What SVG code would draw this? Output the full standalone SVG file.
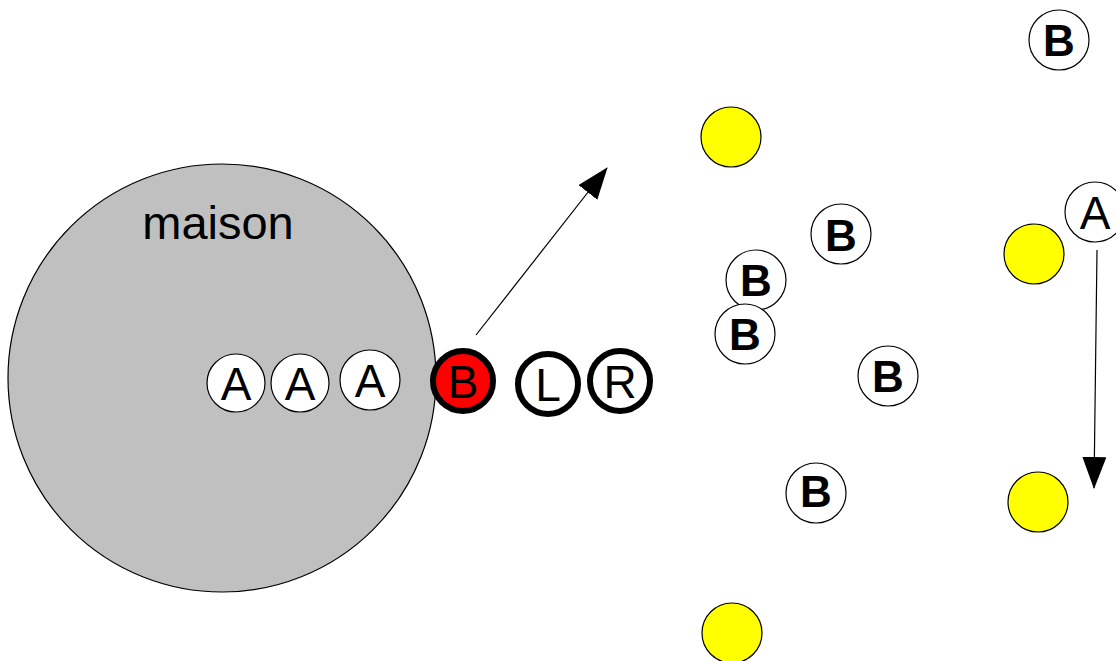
<svg xmlns="http://www.w3.org/2000/svg" width="1116" height="661" viewBox="0 0 1116 661">
<style>
.n{fill:#fff;stroke:#000;stroke-width:1.2}
.k{fill:#fff;stroke:#000;stroke-width:6}
.y{fill:#ff0;stroke:#000;stroke-width:1.2}
.t{font-family:"Liberation Sans",Arial,sans-serif;font-size:46px;text-anchor:middle;fill:#000}
.b{font-weight:bold;font-size:44px}
.c{stroke:#000;stroke-width:1.2;fill:none}
</style>
<defs>
<marker id="ah" viewBox="0 0 32 24" refX="31" refY="12" markerWidth="32" markerHeight="24" markerUnits="userSpaceOnUse" orient="auto">
<path d="M0,0 L32,12 L0,24 Z" fill="#000"/>
</marker>
</defs>
<rect width="1116" height="661" fill="#fff"/>
<g id="maison">
<circle cx="222" cy="378" r="214" fill="#c0c0c0" stroke="#000" stroke-width="1.2"/>
<text class="t" x="218" y="239" style="font-size:47px">maison</text>
</g>
<g id="a1"><circle class="n" cx="236" cy="383" r="29"/><text class="t" x="236" y="400">A</text></g>
<g id="a2"><circle class="n" cx="300" cy="383" r="29"/><text class="t" x="300" y="400">A</text></g>
<g id="a3"><circle class="n" cx="370" cy="380" r="30"/><text class="t" x="370" y="397">A</text></g>
<g id="bred"><circle class="k" cx="463" cy="381" r="30" style="fill:#f00"/><text class="t" x="463" y="398">B</text></g>
<g id="l"><circle class="k" cx="548" cy="384" r="30"/><text class="t" x="548" y="401">L</text></g>
<g id="r"><circle class="k" cx="620" cy="381" r="30"/><text class="t" x="620" y="398">R</text></g>
<g id="b1"><circle class="n" cx="1059" cy="40" r="30"/><text class="t b" x="1059" y="56">B</text></g>
<g id="b2"><circle class="n" cx="841" cy="234" r="30"/><text class="t b" x="841" y="251">B</text></g>
<g id="b3"><circle class="n" cx="756" cy="280" r="30"/><text class="t b" x="756" y="296">B</text></g>
<g id="b4"><circle class="n" cx="745" cy="334" r="30"/><text class="t b" x="745" y="350">B</text></g>
<g id="b5"><circle class="n" cx="888" cy="376" r="30"/><text class="t b" x="888" y="392">B</text></g>
<g id="b6"><circle class="n" cx="816" cy="493" r="30"/><text class="t b" x="816" y="507">B</text></g>
<g id="a4"><circle class="n" cx="1095" cy="212" r="30"/><text class="t" x="1095" y="229">A</text></g>
<g id="y1"><circle class="y" cx="731" cy="137" r="30"/></g>
<g id="y2"><circle class="y" cx="1034" cy="254" r="30"/></g>
<g id="y3"><circle class="y" cx="1038" cy="502" r="30"/></g>
<g id="y4"><circle class="y" cx="732" cy="633" r="30"/></g>
<g id="connectors">
<line class="c" x1="476" y1="335" x2="607" y2="168" marker-end="url(#ah)"/>
<line class="c" x1="1097" y1="250" x2="1094" y2="488" marker-end="url(#ah)"/>
</g>
</svg>
